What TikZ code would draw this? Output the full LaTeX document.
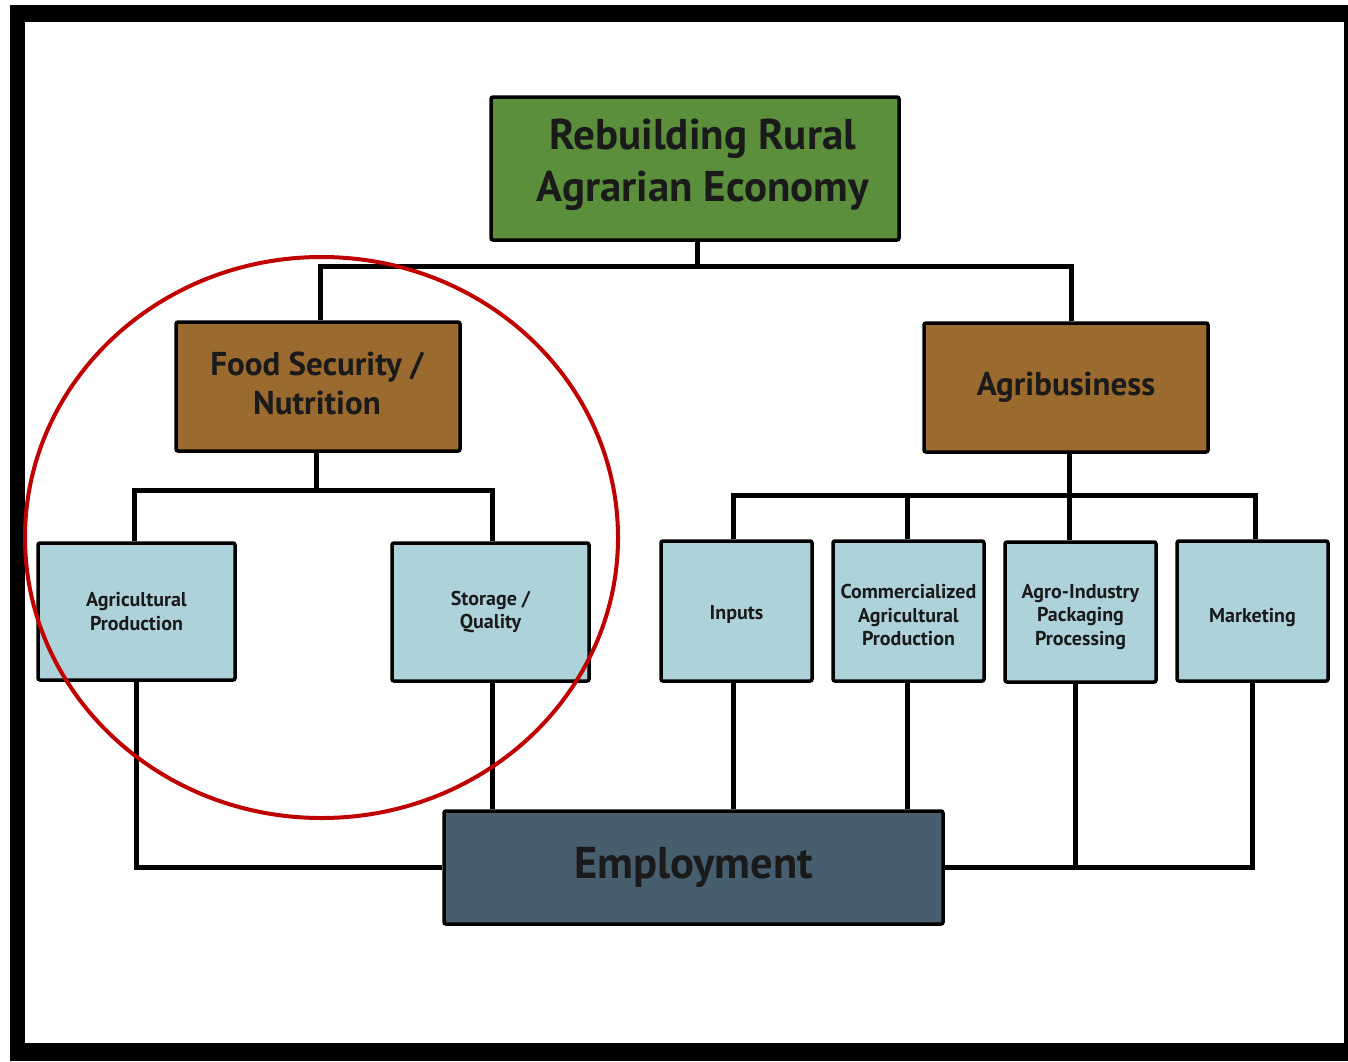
\documentclass[tikz,border=0pt]{standalone}
\usepackage{fontspec}
\setmainfont{PT Sans}
\definecolor{topgreen}{HTML}{5B8F3B}
\definecolor{midbrown}{HTML}{9A6A2F}
\definecolor{leafblue}{HTML}{AED2D9}
\definecolor{empslate}{HTML}{475E6F}
\definecolor{ringred}{HTML}{C00000}
\definecolor{txt}{HTML}{1A1A1A}
\tikzset{
  box/.style={draw=black, line width=3.5pt, rounded corners=2pt, inner sep=0pt,
    align=center, text=txt, font=\bfseries},
  topbox/.style={box, fill=topgreen},
  midbox/.style={box, fill=midbrown, font=\fontsize{33}{39}\selectfont\bfseries},
  leafbox/.style={box, fill=leafblue},
  empbox/.style={box, fill=empslate, font=\fontsize{44.5}{50}\selectfont\bfseries},
  boxtext/.style={text=txt, align=center, inner sep=0pt},
  toptext/.style={boxtext, font=\fontsize{43}{52}\selectfont\bfseries},
  midtext/.style={boxtext, font=\fontsize{33}{39}\selectfont\bfseries},
  leaftext/.style={boxtext, font=\fontsize{20}{23.5}\selectfont\bfseries},
  link/.style={draw=black, line width=5pt},
}
\begin{document}
\begin{tikzpicture}[x=1pt,y=-1pt]
\useasboundingbox (0,0) rectangle (1348,1061);
\fill[white] (0,0) rectangle (1348,1061);
\fill[black] (10,5) rectangle (1348,1061);
\fill[white] (25,22) rectangle (1344,1043);

\node[topbox, minimum width=408pt, minimum height=143pt] (top) at (695,168.5) {};
\node[toptext] (toptx) at (703,165) {Rebuilding Rural\\Agrarian Economy};
\node[midbox, minimum width=284pt, minimum height=129pt] (food) at (318,386.5) {};
\node[midtext] (foodtx) at (317,383) {Food Security /\\Nutrition};
\node[midbox, minimum width=284pt, minimum height=129pt] (agri) at (1066,387.5) {Agribusiness};
\node[leafbox, minimum width=197pt, minimum height=137pt] (agprod) at (136.5,611.5) {};
\node[leaftext] (agprodtx) at (agprod) {Agricultural\\Production};
\node[leafbox, minimum width=197pt, minimum height=138pt] (storage) at (490.5,612) {};
\node[leaftext] (storagetx) at (storage) {Storage /\\Quality};
\node[leafbox, minimum width=151pt, minimum height=140pt] (inputs) at (736.5,611) {};
\node[leaftext] (inputstx) at ([yshift=-3pt]inputs.center) {Inputs};
\node[leafbox, minimum width=151pt, minimum height=140pt] (comm) at (908.5,611) {};
\node[leaftext] (commtx) at ([yshift=-4pt]comm.center) {Commercialized\\Agricultural\\Production};
\node[leafbox, minimum width=151pt, minimum height=140pt] (agro) at (1080.5,612) {};
\node[leaftext] (agrotx) at ([yshift=-5pt]agro.center) {Agro-Industry\\Packaging\\Processing};
\node[leafbox, minimum width=151pt, minimum height=140pt] (mkt) at (1252.5,611) {};
\node[leaftext] (mkttx) at ([yshift=-6pt]mkt.center) {Marketing};
\node[empbox, minimum width=499pt, minimum height=113pt] (emp) at (693.5,867.5) {\raisebox{-3pt}{Employment}};

\coordinate (j1) at (697,266);
\coordinate (j2) at (316,490);
\coordinate (j3) at (1069,495);
\coordinate (x320) at (320,0);
\coordinate (x1071) at (1071,0);
\coordinate (x134) at (134,0);
\coordinate (x492) at (492,0);
\coordinate (x733) at (733,0);
\coordinate (x907) at (907,0);
\coordinate (x1255) at (1255,0);
\coordinate (x1075) at (1075,0);

\draw[link] (top.south -| j1) -- (j1);
\draw[link] (food.north -| x320) |- (j1) -| (agri.north -| x1071);
\draw[link] (food.south -| j2) -- (j2);
\draw[link] (agprod.north -| x134) |- (j2) -| (storage.north -| x492);
\draw[link] (agri.south -| j3) -- (j3);
\draw[link] (inputs.north -| x733) |- (j3) -| (mkt.north -| x1255);
\draw[link] (comm.north -| x907) -- (j3 -| x907);
\draw[link] (j3) -- (j3 |- agro.north);

\draw[link] (inputs.south -| x733) -- (emp.north -| x733);
\draw[link] (comm.south -| x907) -- (emp.north -| x907);
\draw[link] (storage.south -| x492) -- (emp.north -| x492);
\draw[link] (agprod.south) |- (emp.west);
\draw[link] (emp.east) -| (mkt.south);
\draw[link] (agro.south -| x1075) -- (emp.east -| x1075);

\draw[ringred, line width=4pt] (321.5,537.5) ellipse [x radius=296.5pt, y radius=280.5pt];
\end{tikzpicture}
\end{document}
